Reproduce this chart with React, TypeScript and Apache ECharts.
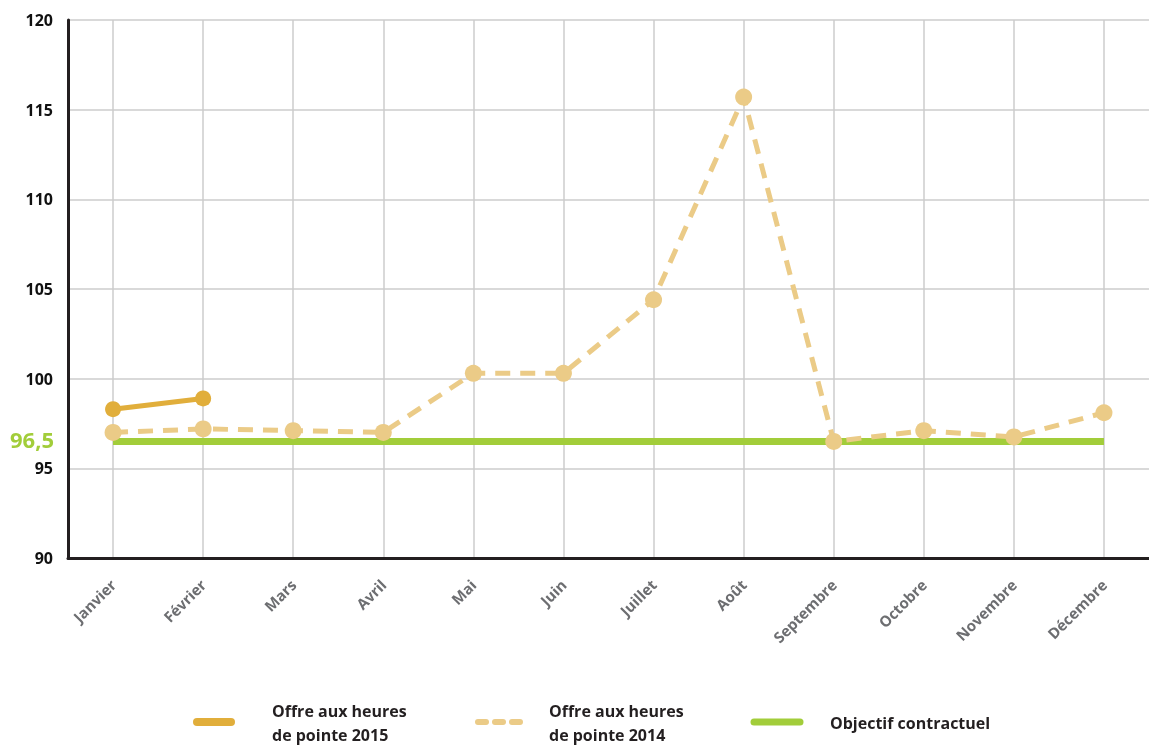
import React, { useEffect, useRef } from "react";
import * as echarts from "echarts";

const months = ["Janvier", "Février", "Mars", "Avril", "Mai", "Juin", "Juillet", "Août", "Septembre", "Octobre", "Novembre", "Décembre"];
const offre2015 = [98.3, 98.9];
const offre2014 = [97.0, 97.2, 97.1, 97.0, 100.3, 100.3, 104.4, 115.7, 96.5, 97.1, 96.75, 98.1];
const objectif = [96.5, 96.5, 96.5, 96.5, 96.5, 96.5, 96.5, 96.5, 96.5, 96.5, 96.5, 96.5];
const objectifLabel = "96,5";
const legendNames = ["Offre aux heures\nde pointe 2015", "Offre aux heures\nde pointe 2014", "Objectif contractuel"];

const C2015 = "#e1ae3b";
const C2014 = "#ebcb87";
const CObj = "#a2cd3a";
const FONT = "'Open Sans', sans-serif";

export default function App() {
  const ref = useRef<HTMLDivElement>(null);
  useEffect(() => {
    if (!ref.current) return;
    const chart = echarts.init(ref.current, undefined, { renderer: "svg" });
    const legendText = { fontFamily: FONT, fontSize: 16, fontWeight: 700, fill: "#231f20", lineHeight: 24 };
    chart.setOption({
      animation: false,
      textStyle: { fontFamily: FONT },
      grid: { left: 68, top: 20, width: 1084, height: 538, containLabel: false },
      xAxis: {
        type: "category",
        data: months,
        boundaryGap: true,
        axisLine: { lineStyle: { color: "#231f20", width: 3 } },
        axisTick: { show: false },
        splitLine: { show: true, alignWithLabel: true, lineStyle: { color: "#cccccc", width: 1.5 } },
        axisLabel: { rotate: 45, margin: 24, color: "#6d6e71", fontWeight: 700, fontSize: 15, fontFamily: FONT, interval: 0 },
      },
      yAxis: {
        type: "value",
        min: 90,
        max: 120,
        interval: 5,
        axisLine: { show: true, lineStyle: { color: "#231f20", width: 3 } },
        axisTick: { show: false },
        splitLine: { show: true, lineStyle: { color: "#cccccc", width: 1.5 } },
        axisLabel: { margin: 15, color: "#111", fontWeight: 700, fontSize: 16, fontFamily: FONT },
      },
      series: [
        {
          name: legendNames[2],
          type: "line",
          data: objectif,
          symbol: "none",
          lineStyle: { color: CObj, width: 7, cap: "butt" },
          z: 2,
        },
        {
          name: legendNames[1],
          type: "line",
          data: offre2014,
          symbol: "circle",
          symbolSize: 17,
          itemStyle: { color: C2014 },
          lineStyle: { color: C2014, width: 5, type: [15, 10], cap: "butt" },
          z: 3,
        },
        {
          name: legendNames[0],
          type: "line",
          data: offre2015,
          symbol: "circle",
          symbolSize: 16,
          itemStyle: { color: C2015 },
          lineStyle: { color: C2015, width: 5 },
          z: 4,
        },
      ],
      graphic: [
        { type: "line", shape: { x1: 197, y1: 722, x2: 231, y2: 722 }, style: { stroke: C2015, lineWidth: 8, lineCap: "round" } },
        { type: "text", x: 272, y: 699, style: { ...legendText, text: legendNames[0] } },
        { type: "line", shape: { x1: 478, y1: 722, x2: 520, y2: 722 }, style: { stroke: C2014, lineWidth: 6, lineCap: "round", lineDash: [8, 9] } },
        { type: "text", x: 549, y: 699, style: { ...legendText, text: legendNames[1] } },
        { type: "line", shape: { x1: 754, y1: 722, x2: 800, y2: 722 }, style: { stroke: CObj, lineWidth: 7, lineCap: "round" } },
        { type: "text", x: 830, y: 711, style: { ...legendText, text: legendNames[2] } },
      ],
    });
    const pt = chart.convertToPixel({ gridIndex: 0 }, [months[0], objectif[0]]) as number[];
    chart.setOption({
      graphic: [
        {
          type: "text",
          id: "objLabel",
          x: 54,
          y: pt[1] - 2,
          style: {
            text: objectifLabel,
            fill: CObj,
            fontFamily: FONT,
            fontSize: 22,
            fontWeight: 700,
            align: "right",
            verticalAlign: "middle",
          },
        },
      ],
    });
    return () => chart.dispose();
  }, []);
  return <div ref={ref} style={{ position: "fixed", left: 0, top: 0, width: 1149, height: 746 }} />;
}
